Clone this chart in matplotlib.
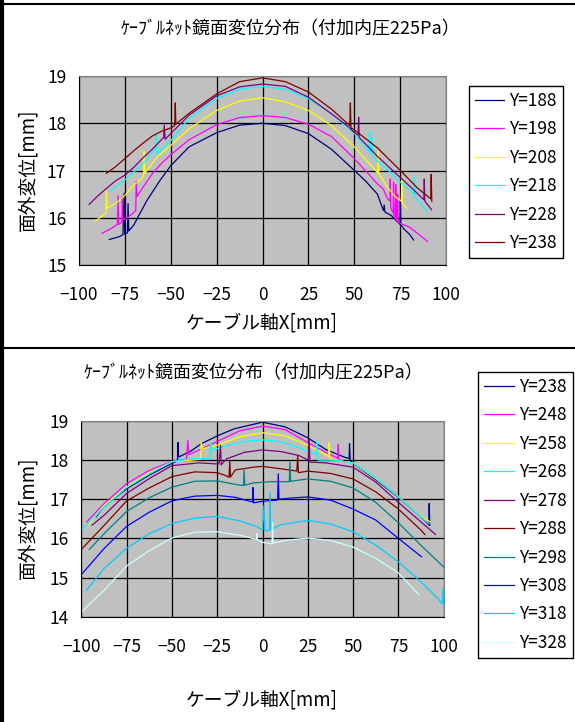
import matplotlib
matplotlib.use("Agg")
import matplotlib.pyplot as plt
from matplotlib.lines import Line2D

plt.rcParams['font.family'] = ['Noto Sans CJK JP', 'DejaVu Sans']

W, H = 575, 722

title = "ｹｰﾌﾞﾙﾈｯﾄ鏡面変位分布（付加内圧225Pa）"
xlabel = "ケーブル軸X[mm]"
ylabel = "面外変位[mm]"
x_ticks = [-100, -75, -50, -25, 0, 25, 50, 75, 100]

# ---- top chart (Y=188..238) ----
top_labels = ["Y=188", "Y=198", "Y=208", "Y=218", "Y=228", "Y=238"]
top_colors = ["#000080", "#FF00FF", "#FFFF00", "#00FFFF", "#800080", "#800000"]

t188_x = [-83.4, -78, -76, -75.3, -75, -74.7, -73.5, -73.2, -72.8, -70, -68, -63, -56, -50, -40, -25,
          -12.5, 0, 12.5, 25, 37.5, 50, 56, 62.5, 65.8, 66.2, 66.6, 70, 73, 74.8, 75.0, 75.3, 77, 80, 82.2]
t188_y = [15.54, 15.6, 15.64, 16.52, 15.65, 15.66, 15.68, 16.3, 15.72, 15.85, 16.0, 16.36, 16.78, 17.1,
          17.5, 17.8, 17.96, 18.0, 17.95, 17.78, 17.45, 17.0, 16.78, 16.5, 16.15, 16.27, 16.12, 16.05,
          15.93, 15.86, 16.39, 15.85, 15.76, 15.65, 15.53]

t198_x = [-87.4, -82, -79, -78.6, -78.2, -76.6, -76.3, -76, -72, -69, -68.7, -68.3, -65, -60, -55, -50,
          -40, -25, -12.5, 0, 12.5, 25, 37.5, 50, 62.5, 65.8, 68, 69.3, 69.5, 69.8, 71.1, 71.3, 71.6,
          72.3, 72.5, 72.8, 73.3, 73.5, 73.8, 75, 80, 85, 89.7]
t198_y = [15.67, 15.78, 15.86, 16.47, 15.86, 15.9, 16.45, 15.95, 16.05, 16.15, 16.77, 16.45, 16.65,
          16.93, 17.15, 17.33, 17.65, 17.97, 18.12, 18.16, 18.12, 17.98, 17.72, 17.25, 16.72, 16.6,
          16.4, 16.35, 16.82, 16.2, 16.1, 16.75, 16.05, 15.98, 16.7, 15.95, 15.93, 16.5, 15.9, 15.88,
          15.8, 15.65, 15.5]

t208_x = [-91, -85.2, -85, -84.6, -80, -75, -70, -66, -64.7, -64.5, -64, -57, -50, -40, -25, -12.5, 0,
          12.5, 25, 37.5, 50, 58, 62.7, 63, 63.3, 68, 72, 75.5, 75.8, 76.1, 78.5]
t208_y = [15.93, 16.1, 16.57, 16.2, 16.3, 16.47, 16.7, 16.82, 16.9, 17.4, 16.95, 17.3, 17.53, 17.88,
          18.27, 18.47, 18.54, 18.45, 18.27, 17.95, 17.5, 17.15, 16.95, 17.4, 16.93, 16.65, 16.45,
          16.35, 16.8, 16.3, 16.2]

t218_x = [-83.2, -80, -75, -70, -65, -60, -58, -57.8, -57.4, -55, -50, -40, -25, -12.5, 0, 12.5, 25,
          37.5, 50, 55, 58, 58.3, 58.6, 59.3, 59.6, 60, 62.5, 70, 75, 80, 82.4, 82.6, 82.9, 86, 89.8]
t218_y = [16.56, 16.65, 16.8, 16.97, 17.15, 17.38, 17.45, 17.78, 17.35, 17.45, 17.63, 18.1, 18.52,
          18.72, 18.78, 18.72, 18.52, 18.2, 17.78, 17.55, 17.4, 17.83, 17.38, 17.36, 17.7, 17.3, 17.2,
          16.95, 16.75, 16.6, 16.5, 16.86, 16.45, 16.3, 16.13]

t228_x = [-94.4, -90, -85, -80, -75, -70, -65, -60, -55.6, -53.8, -53.5, -53, -50, -40, -25, -12.5, 0,
          12.5, 25, 37.5, 47, 50, 52, 52.3, 52.6, 62.5, 75, 82, 87.8, 88, 88.3, 92]
t228_y = [16.28, 16.45, 16.62, 16.78, 16.9, 17.07, 17.27, 17.45, 17.63, 17.7, 17.96, 17.66, 17.78,
          18.17, 18.58, 18.77, 18.83, 18.78, 18.55, 18.2, 17.92, 17.8, 17.75, 18.13, 17.7, 17.3, 16.85,
          16.6, 16.38, 16.82, 16.35, 16.17]

t238_x = [-85, -80, -75, -70, -65, -60, -55, -50, -47.8, -47.5, -47.2, -40, -25, -12.5, 0, 12.5, 25,
          37.5, 47.5, 47.8, 48.1, 50, 62.5, 75, 84, 91.5, 91.8, 92.1]
t238_y = [16.94, 17.08, 17.25, 17.42, 17.58, 17.73, 17.83, 17.9, 17.95, 18.43, 17.98, 18.21, 18.62,
          18.88, 18.96, 18.88, 18.66, 18.3, 17.95, 18.43, 17.9, 17.86, 17.48, 17.0, 16.64, 16.4, 16.92,
          16.35]

# ---- bottom chart (Y=238..328) ----
bot_labels = ["Y=238", "Y=248", "Y=258", "Y=268", "Y=278", "Y=288", "Y=298", "Y=308", "Y=318", "Y=328"]
bot_colors = ["#000080", "#FF00FF", "#FFFF00", "#00FFFF", "#800080", "#800000", "#008080", "#0000FF",
              "#00CCFF", "#CCFFFF"]

b238_x = [-92, -87.5, -75, -62.5, -50, -47, -46.7, -46.3, -40, -33.8, -25, -15.7, 0, 12.5, 25, 35, 45,
          47.8, 48, 48.4, 50, 62.5, 75, 87.5, 91.8, 92.0, 92.3]
b238_y = [16.55, 16.82, 17.27, 17.62, 17.92, 17.98, 18.45, 18.08, 18.22, 18.42, 18.62, 18.8, 18.97, 18.85,
          18.57, 18.27, 18.08, 18.04, 18.42, 18.0, 17.92, 17.5, 17.05, 16.55, 16.35, 16.89, 16.33]

b248_x = [-97.1, -87.5, -75, -62.5, -50, -42, -41.2, -40.7, -33, -25, -12.5, 0, 12.5, 25, 35, 41.5, 41.8,
          42.2, 50, 62.5, 75, 87.5, 91]
b248_y = [16.42, 16.89, 17.4, 17.74, 17.97, 18.02, 18.51, 18.14, 18.3, 18.48, 18.75, 18.87, 18.78, 18.45,
          18.2, 18.05, 18.4, 17.98, 17.93, 17.53, 17.08, 16.55, 16.4]

b258_x = [-96, -87.5, -75, -62.5, -50, -34.2, -33.8, -33.4, -25, -12.5, 0, 12.5, 25, 36.5, 36.8, 37.2,
          50, 62.5, 75, 87.5, 92.7]
b258_y = [16.35, 16.84, 17.32, 17.68, 17.96, 18.02, 18.46, 18.29, 18.38, 18.6, 18.7, 18.62, 18.38, 18.1,
          18.45, 18.02, 17.93, 17.53, 17.07, 16.56, 16.42]

b268_x = [-99.3, -87.5, -75, -62.5, -50, -40, -29, -28.6, -28.2, -20, -10, 0, 10, 20, 29.8, 30.2, 30.6,
          40, 50, 62.5, 75, 87.5, 92]
b268_y = [16.25, 16.8, 17.3, 17.65, 17.96, 18.03, 18.04, 18.43, 18.26, 18.36, 18.48, 18.52, 18.47, 18.32,
          18.15, 18.48, 18.0, 18.0, 17.93, 17.55, 17.06, 16.55, 16.38]

b278_x = [-94.1, -87.5, -75, -62.5, -50, -35, -24, -23.2, -22.8, -20, -10, 0, 10, 20, 25.3, 25.7, 26.2,
          35, 50, 62.5, 75, 87.5, 95.5]
b278_y = [16.34, 16.59, 17.15, 17.53, 17.86, 17.93, 17.9, 18.38, 17.88, 18.03, 18.2, 18.26, 18.22, 18.12,
          18.0, 18.53, 17.95, 17.93, 17.82, 17.44, 16.92, 16.42, 16.1]

b288_x = [-99.6, -87.5, -75, -62.5, -50, -37.5, -25, -20, -18.5, -18.1, -17.7, -15, -5, 0, 10, 18.9,
          19.4, 19.8, 25, 37.5, 50, 62.5, 75, 87.5, 89.6]
b288_y = [15.74, 16.33, 16.96, 17.29, 17.58, 17.7, 17.68, 17.6, 17.56, 17.98, 17.57, 17.75, 17.82, 17.84,
          17.78, 17.72, 18.11, 17.68, 17.72, 17.66, 17.52, 17.19, 16.75, 16.21, 16.1]

b298_x = [-95.6, -87.5, -75, -62.5, -50, -37.5, -25, -15, -10.5, -10.2, -9.8, -5, 5, 14.8, 15.1, 15.5,
          25, 37.5, 50, 62.5, 75, 87.5, 100]
b298_y = [15.72, 16.12, 16.69, 17.04, 17.31, 17.46, 17.47, 17.38, 17.35, 17.75, 17.36, 17.42, 17.45,
          17.45, 17.95, 17.46, 17.52, 17.46, 17.29, 16.92, 16.4, 15.82, 15.27]

b308_x = [-99.6, -87.5, -75, -62.5, -50, -37.5, -25, -15, -7, -5.5, -5.3, -4.9, 0, 8.3, 8.7, 9.1, 15, 25,
          37.5, 50, 62.5, 75, 87.8]
b308_y = [15.1, 15.74, 16.31, 16.67, 16.96, 17.08, 17.1, 17.05, 16.95, 16.93, 17.3, 16.91, 16.95, 16.98,
          17.65, 17.0, 17.03, 17.06, 16.98, 16.75, 16.47, 16.0, 15.53]

b318_x = [-97.3, -87.5, -75, -62.5, -50, -37.5, -25, -12.5, -3, 0, 0.8, 1.3, 3.8, 4.1, 4.5, 10, 25,
          37.5, 50, 62.5, 75, 87.5, 97, 99.2, 99.6, 100]
b318_y = [14.67, 15.23, 15.75, 16.12, 16.38, 16.52, 16.56, 16.45, 16.3, 16.22, 16.85, 16.2, 16.21, 17.17,
          16.22, 16.35, 16.46, 16.37, 16.17, 15.83, 15.4, 14.89, 14.45, 14.33, 14.72, 14.3]

b328_x = [-100, -87.5, -75, -62.5, -50, -37.5, -25, -12.5, -3.4, -3.1, -2.8, 0, 5.2, 5.5, 5.9, 12.5, 25,
          37.5, 50, 62.5, 75, 86.3]
b328_y = [14.12, 14.67, 15.3, 15.69, 16.01, 16.16, 16.17, 16.08, 15.98, 16.12, 15.96, 15.9, 15.86, 16.4,
          15.88, 15.95, 16.01, 15.95, 15.78, 15.49, 15.12, 14.56]

top_series = [(t188_x, t188_y), (t198_x, t198_y), (t208_x, t208_y),
              (t218_x, t218_y), (t228_x, t228_y), (t238_x, t238_y)]
bot_series = [(b238_x, b238_y), (b248_x, b248_y), (b258_x, b258_y), (b268_x, b268_y),
              (b278_x, b278_y), (b288_x, b288_y), (b298_x, b298_y), (b308_x, b308_y),
              (b318_x, b318_y), (b328_x, b328_y)]


def px_axes(fig, left, top, right, bottom):
    return fig.add_axes([left / W, 1 - bottom / H, (right - left) / W, (bottom - top) / H])


def draw_panel(fig, box, series, labels, colors, ylim, leg_xy, title_xy, xl_xy, yl_xy):
    ax = px_axes(fig, *box)
    ax.set_facecolor("#C0C0C0")
    for (xs, ys), lab, c in zip(series, labels, colors):
        ax.plot(xs, ys, color=c, lw=0.9, label=lab)
    ax.set_xlim(-100, 100)
    ax.set_ylim(*ylim)
    ax.set_xticks(x_ticks)
    ax.set_yticks(range(ylim[0], ylim[1] + 1))
    ax.grid(True, color="black", lw=0.9)
    ax.set_axisbelow(True)
    ax.tick_params(axis="both", length=0, labelsize=12.5)
    ax.tick_params(axis="y", pad=9)
    ax.tick_params(axis="x", pad=15)
    for s in ["left", "bottom"]:
        ax.spines[s].set_color("black")
    for s in ["top", "right"]:
        ax.spines[s].set_color("#808080")
    leg = ax.legend(loc="upper left", bbox_to_anchor=(leg_xy[0] / W, 1 - leg_xy[1] / H),
                    bbox_transform=fig.transFigure, fontsize=12.5, frameon=True, fancybox=False,
                    edgecolor="black", framealpha=1, borderaxespad=0, borderpad=0.35,
                    labelspacing=0.6, handlelength=1.7, handletextpad=0.3)
    leg.get_frame().set_linewidth(1.0)
    fig.text(title_xy[0] / W, 1 - title_xy[1] / H, title, ha="center", va="center", fontsize=13)
    fig.text(xl_xy[0] / W, 1 - xl_xy[1] / H, xlabel, ha="center", va="center", fontsize=13.5)
    fig.text(yl_xy[0] / W, 1 - yl_xy[1] / H, ylabel, ha="center", va="center", fontsize=13.5,
             rotation=90)
    return ax


fig = plt.figure(figsize=(W / 100, H / 100), dpi=100)

draw_panel(fig, (78.8, 76, 446.3, 265), top_series, top_labels, top_colors, (15, 19),
           (468.6, 86), (290, 29), (262, 323), (27.5, 170))
draw_panel(fig, (81.4, 421, 443.7, 616.7), bot_series, bot_labels, bot_colors, (14, 19),
           (478, 372), (253, 373), (262, 700), (27.5, 518))

# panel frames
for xs, ys, lw in [([0, 1], [1 - 3.5 / H, 1 - 3.5 / H], 1.5),
                   ([0, 1], [1 - 348 / H, 1 - 348 / H], 1.5),
                   ([1.5 / W, 1.5 / W], [0, 1], 3)]:
    fig.add_artist(Line2D(xs, ys, color="black", lw=lw, transform=fig.transFigure))

fig.savefig("out.png", dpi=100)
